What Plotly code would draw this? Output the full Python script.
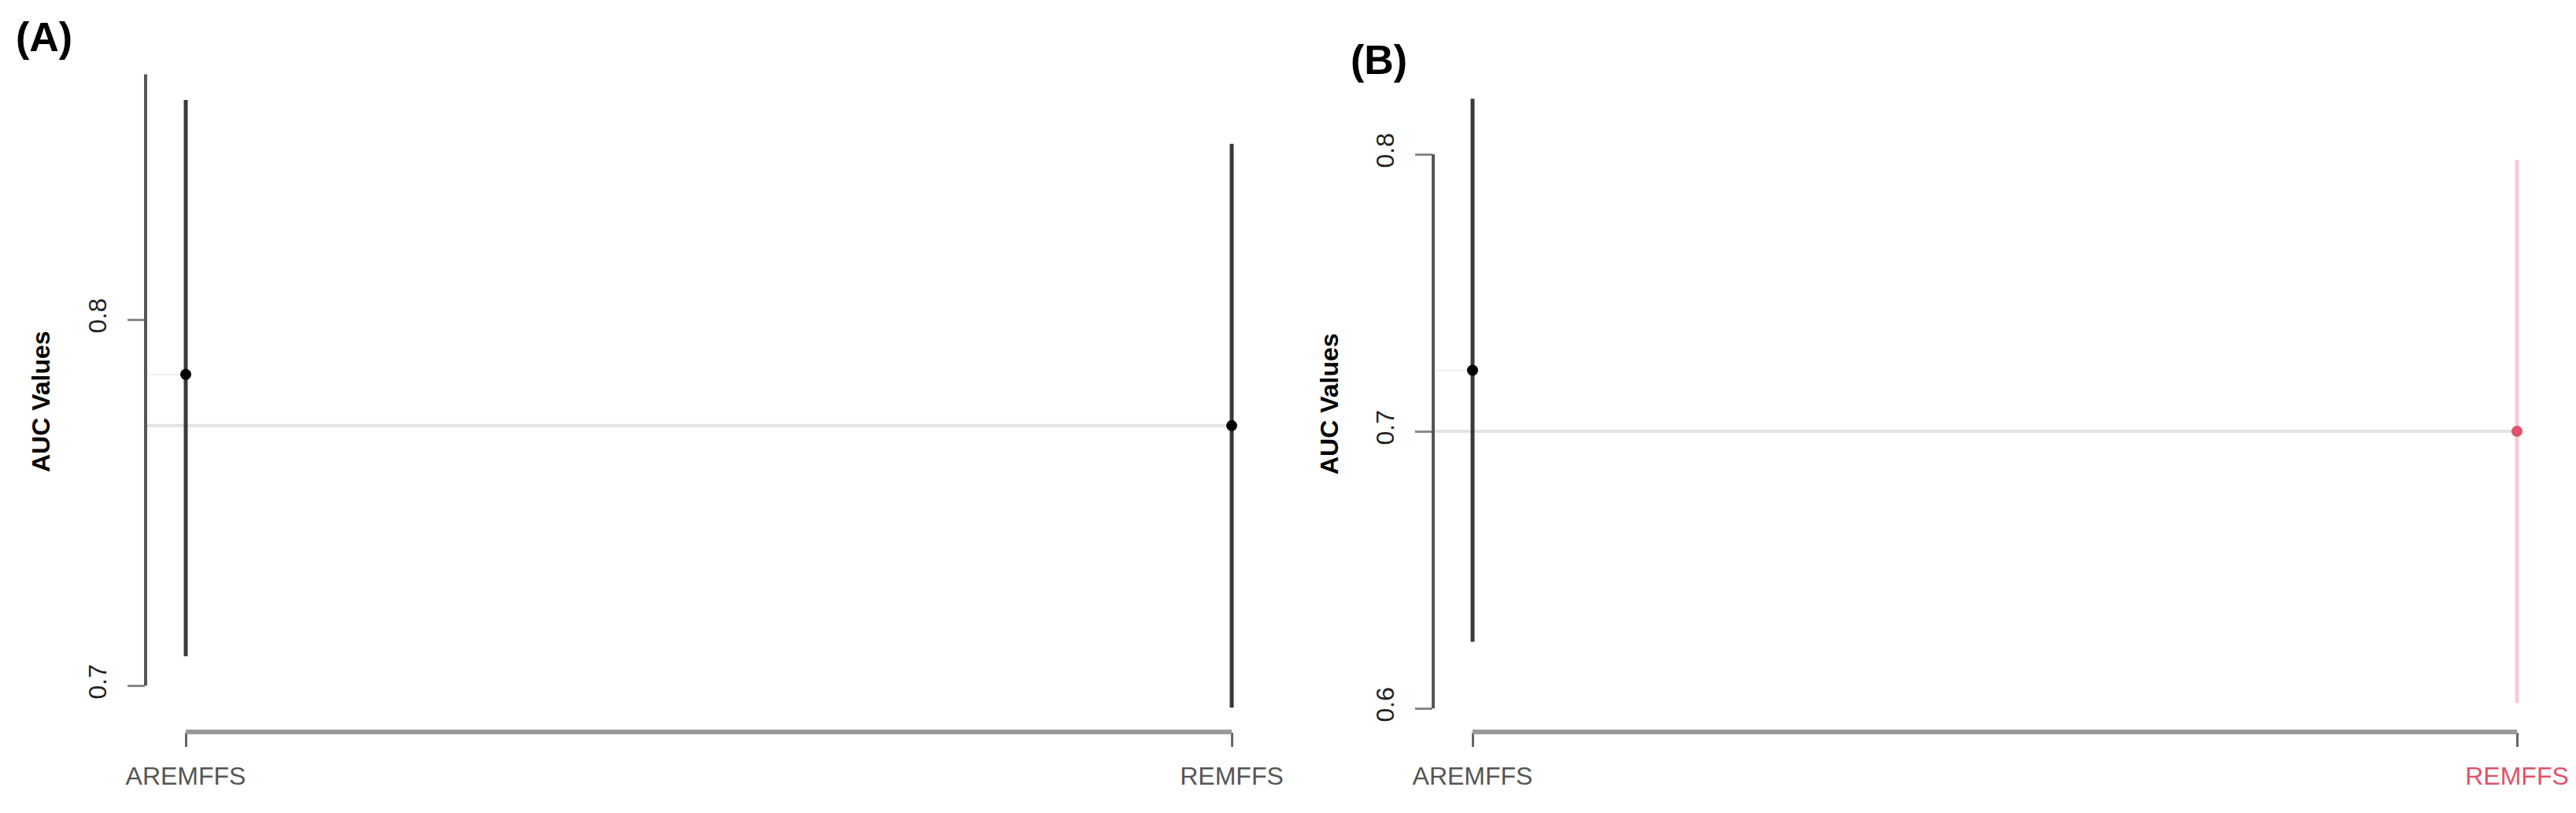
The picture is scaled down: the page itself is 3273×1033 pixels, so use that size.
import plotly.graph_objects as go

W, H = 3273, 1033

models = ["AREMFFS", "REMFFS"]

# (A) AUC with interval
auc_a = [0.785, 0.771]
lower_a = [0.708, 0.694]
upper_a = [0.860, 0.848]
yticks_a = [0.7, 0.8]
yaxis_top_a = 0.867

# (B) AUC with interval
auc_b = [0.722, 0.700]
lower_b = [0.624, 0.602]
upper_b = [0.820, 0.798]
yticks_b = [0.6, 0.7, 0.8]
yaxis_top_b = 0.8

FONT = "Arial, Liberation Sans, sans-serif"
PINK = "#DF536B"

# pixel layout of each panel: y-axis x, category x positions, right edge,
# and two y ticks with their pixel rows
layout_px = [
    dict(axis=185, cats=(236, 1565), right=1700, yref=((0.8, 406), (0.7, 871))),
    dict(axis=1821, cats=(1871, 3198), right=W, yref=((0.8, 196), (0.6, 900))),
]
XAXIS_ROW = 930


def lin(p0, v0, p1, v1, p):
    return v0 + (p - p0) * (v1 - v0) / (p1 - p0)


fig = go.Figure()

panels = [
    (auc_a, lower_a, upper_a, yticks_a, yaxis_top_a, "(A)"),
    (auc_b, lower_b, upper_b, yticks_b, yaxis_top_b, "(B)"),
]

for i, (auc, lo, hi, yticks, ytop, tag) in enumerate(panels):
    lp = layout_px[i]
    xa = "x" if i == 0 else "x2"
    ya = "y" if i == 0 else "y2"
    xk = "xaxis" if i == 0 else "xaxis2"
    yk = "yaxis" if i == 0 else "yaxis2"

    c0, c1 = lp["cats"]
    xr = [lin(c0, 0, c1, 1, lp["axis"]), lin(c0, 0, c1, 1, lp["right"])]
    (v0, p0), (v1, p1) = lp["yref"]
    yr = [lin(p0, v0, p1, v1, H), lin(p0, v0, p1, v1, 0)]

    for j, name in enumerate(models):
        pink = (i == 1 and name == "REMFFS")
        fig.add_trace(go.Scatter(
            x=[j], y=[auc[j]], xaxis=xa, yaxis=ya, mode="markers",
            marker=dict(size=14, color=PINK if pink else "black"),
            error_y=dict(type="data", symmetric=False,
                         array=[hi[j] - auc[j]], arrayminus=[auc[j] - lo[j]],
                         width=0, thickness=5,
                         color="rgba(223,83,107,0.3)" if pink else "#383838"),
            showlegend=False, hoverinfo="skip",
        ))

    ticktext = []
    for name in models:
        if i == 1 and name == "REMFFS":
            ticktext.append(f'<span style="color:{PINK}">{name}</span>')
        else:
            ticktext.append(name)

    fig.update_layout({
        xk: dict(domain=[lp["axis"] / W, lp["right"] / W], range=xr,
                 anchor="free", position=1 - XAXIS_ROW / H, automargin=False,
                 tickvals=[0, 1], ticktext=ticktext, ticks="outside",
                 ticklen=18, tickwidth=3, tickcolor="#666",
                 tickfont=dict(family=FONT, size=32, color="#555"),
                 ticklabelstandoff=10,
                 showline=False, showgrid=False, zeroline=False),
        yk: dict(domain=[0, 1], range=yr, anchor=xa, automargin=False,
                 tickvals=yticks, ticks="outside", ticklen=22, tickwidth=3,
                 tickcolor="#888", tickangle=-90,
                 tickfont=dict(family=FONT, size=32, color="#222"),
                 ticklabelstandoff=14,
                 showline=False, showgrid=False, zeroline=False),
    })

    # reference line at REMFFS value, faint guide to AREMFFS point
    fig.add_shape(type="line", xref=xa, yref=ya, x0=xr[0], x1=1,
                  y0=auc[1], y1=auc[1], layer="below",
                  line=dict(color="#e3e3e3", width=4))
    fig.add_shape(type="line", xref=xa, yref=ya, x0=xr[0], x1=0,
                  y0=auc[0], y1=auc[0], layer="below",
                  line=dict(color="#eeeeee", width=2))
    # R-style detached axis lines
    fig.add_shape(type="line", xref=f"{xa} domain", yref=ya, x0=0, x1=0,
                  y0=yticks[0], y1=ytop, line=dict(color="#555555", width=4))
    fig.add_shape(type="line", xref=xa, yref="paper", x0=0, x1=1,
                  y0=1 - XAXIS_ROW / H, y1=1 - XAXIS_ROW / H,
                  line=dict(color="#999999", width=6))

    tag_px = (56, 47) if i == 0 else (1752, 76)
    fig.add_annotation(text=f"<b>{tag}</b>", xref="paper", yref="paper",
                       x=tag_px[0] / W, y=1 - tag_px[1] / H, showarrow=False,
                       xanchor="center", yanchor="middle",
                       font=dict(family=FONT, size=52, color="black"))
    title_px = (52, 510) if i == 0 else (1689, 513)
    fig.add_annotation(text="<b>AUC Values</b>", xref="paper", yref="paper",
                       x=title_px[0] / W, y=1 - title_px[1] / H,
                       showarrow=False, textangle=-90,
                       xanchor="center", yanchor="middle",
                       font=dict(family=FONT, size=32, color="black"))

fig.update_layout(
    width=W, height=H,
    margin=dict(l=0, r=0, t=0, b=0, autoexpand=False),
    paper_bgcolor="white", plot_bgcolor="white",
    showlegend=False, hovermode=False,
)

fig.write_html("out.html", config={"displayModeBar": False},
               post_script="document.body.style.margin = '0';")
